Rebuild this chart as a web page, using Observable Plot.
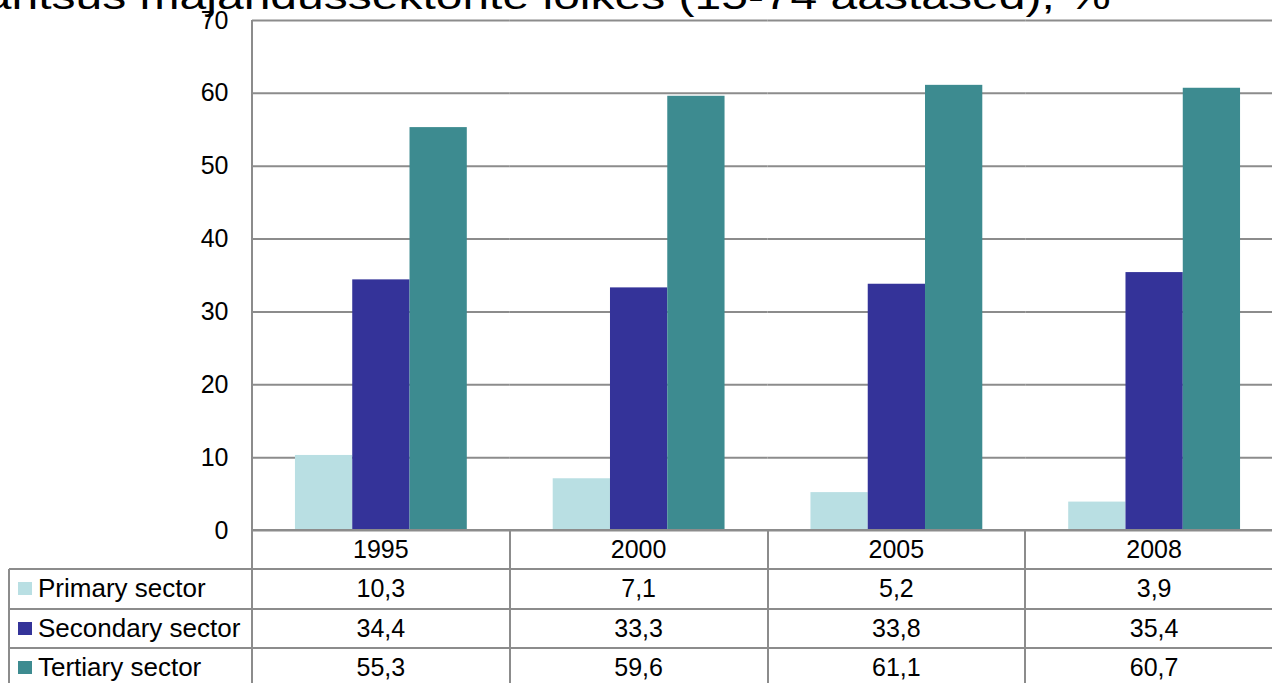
<!DOCTYPE html>
<html><head><meta charset="utf-8">
<script src="https://cdn.jsdelivr.net/npm/d3@7"></script>
<script src="https://cdn.jsdelivr.net/npm/@observablehq/plot@0.6"></script>
<style>
html,body{margin:0;padding:0;background:#fff;overflow:hidden;width:1272px;height:683px;}
#wrap{position:relative;width:1272px;height:683px;overflow:hidden;font-family:"Liberation Sans",Arial,sans-serif;}
#title{position:absolute;left:-322px;top:-21px;font-size:48px;line-height:48px;white-space:nowrap;transform:scaleY(0.75);transform-origin:0 0;color:#000;}
#chart{position:absolute;left:0;top:0;width:1283px;}
#chart svg{max-width:none !important;}
.cell{position:absolute;font-size:25px;display:flex;align-items:center;color:#000;white-space:nowrap;box-sizing:border-box;}
.ln{position:absolute;background:#8c8c8c;}
.sw{display:inline-block;width:14px;height:13px;margin-right:6px;}
</style></head><body><div id="wrap"><div id="title"></div><div id="chart"></div><div id="table"></div></div>
<script>
const title = "Hõivatute osatähtsus majandussektorite lõikes (15-74 aastased), %";
const years = ["1995", "2000", "2005", "2008"];
const sectors = ["Primary sector", "Secondary sector", "Tertiary sector"];
const primary = [10.3, 7.1, 5.2, 3.9];
const secondary = [34.4, 33.3, 33.8, 35.4];
const tertiary = [55.3, 59.6, 61.1, 60.7];
const colors = ["#b9dfe3", "#343399", "#3d8b90"];
const yTicks = [0, 10, 20, 30, 40, 50, 60, 70];

const series = [primary, secondary, tertiary];
const data = [];
years.forEach((yr, i) => sectors.forEach((s, j) => data.push({year: yr, sector: s, value: series[j][i]})));

document.getElementById("title").textContent = title;

const chart = Plot.plot({
  width: 1283, height: 550,
  marginLeft: 252, marginRight: 0, marginTop: 20, marginBottom: 20,
  style: {fontFamily: "Liberation Sans, Arial, sans-serif", fontSize: "25px", color: "#000", background: "transparent", overflow: "visible", maxWidth: "none"},
  fx: {domain: years, padding: 0, round: false, axis: null},
  x: {domain: sectors, paddingInner: 0, paddingOuter: 0.75, round: false, axis: null},
  y: {domain: [0, 70], ticks: yTicks, tickSize: 0, tickPadding: 24, label: null, tickFormat: d => String(d)},
  color: {domain: sectors, range: colors},
  marks: [
    Plot.ruleY(yTicks, {stroke: "#8c8c8c", strokeWidth: 2, strokeOpacity: 1}),
    Plot.barY(data, {fx: "year", x: "sector", y: "value", fill: "sector", inset: 0})
  ]
});
chart.style.maxWidth = "none";
chart.style.width = "1283px";
chart.style.height = "550px";
document.getElementById("chart").appendChild(chart);

const fx = chart.scale("fx");
const ys = chart.scale("y");
const step = fx.bandwidth !== undefined ? fx.bandwidth : (1283 - 252) / years.length;
const left0 = fx.apply(years[0]);
const right = fx.apply(years[years.length - 1]) + step;
const top0 = ys.apply(0);
const rowH = 39.3;
const legendLeft = 9;
const tbl = document.getElementById("table");
function line(x, y, w, h) {
  const d = document.createElement("div");
  d.className = "ln";
  Object.assign(d.style, {left: x + "px", top: y + "px", width: w + "px", height: h + "px"});
  tbl.appendChild(d);
}
function cell(x, y, w, h, html, center) {
  const d = document.createElement("div");
  d.className = "cell";
  Object.assign(d.style, {left: x + "px", top: y + "px", width: w + "px", height: h + "px", justifyContent: center ? "center" : "flex-start"});
  d.innerHTML = html;
  tbl.appendChild(d);
  return d;
}
// left axis line
line(left0 - 1, ys.apply(70), 2, 700);
// horizontal table lines
line(left0, top0 - 1, right - left0, 2);
for (let k = 1; k <= 4; k++) line(legendLeft, top0 + k * rowH - 1, right - legendLeft, 2);
// vertical table lines
line(legendLeft - 1, top0 + rowH, 2, 200);
years.forEach(yr => line(fx.apply(yr) - 1, top0, 2, 200));
line(right - 1, top0, 2, 200);
// header
years.forEach(yr => cell(fx.apply(yr), top0, step, rowH, yr, true));
// rows
sectors.forEach((s, j) => {
  const y = top0 + (j + 1) * rowH;
  const c = cell(legendLeft, y, left0 - legendLeft, rowH, "", false);
  c.style.paddingLeft = "9px";
  c.style.fontSize = "26px";
  const sw = document.createElement("span");
  sw.className = "sw";
  sw.style.background = colors[j];
  c.appendChild(sw);
  c.appendChild(document.createTextNode(s));
  years.forEach((yr, i) => cell(fx.apply(yr), y, step, rowH, series[j][i].toFixed(1).replace(".", ","), true));
});
</script></body></html>
